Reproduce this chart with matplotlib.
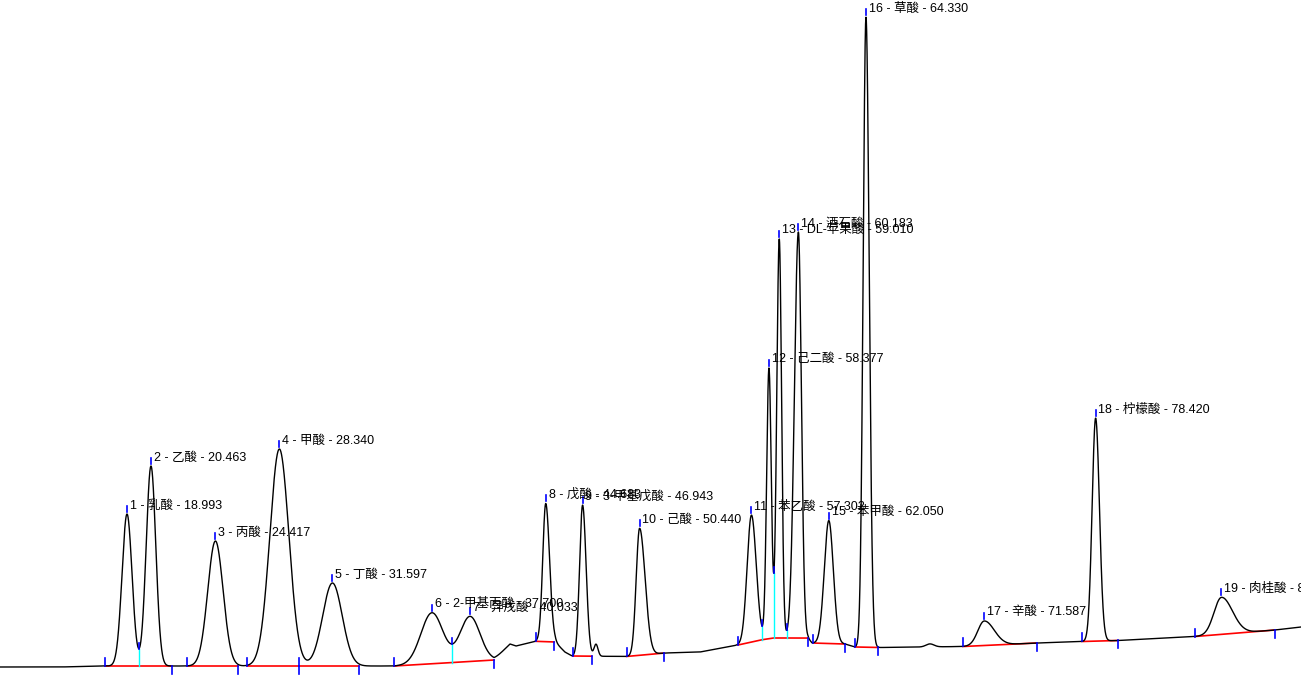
"""
Ion chromatogram of organic acids with integration marks and peak labels.
"""
import numpy as np
import matplotlib
matplotlib.use('Agg')
import matplotlib.pyplot as plt

plt.rcParams['font.family'] = ['Liberation Sans', 'Noto Sans CJK SC']

# peak table (time in min, height above baseline)
peak_no = list(range(1, 20))
peak_names = ['乳酸', '乙酸', '丙酸', '甲酸', '丁酸', '2-甲基丙酸', '异戊酸', '戊酸',
              '3-甲基戊酸', '己酸', '苯乙酸', '己二酸', 'DL-苹果酸', '酒石酸', '苯甲酸',
              '草酸', '辛酸', '柠檬酸', '肉桂酸']
ret_times = [18.993, 20.463, 24.417, 28.340, 31.597, 37.700, 40.033, 44.683, 46.943,
             50.440, 57.302, 58.377, 59.010, 60.183, 62.050, 64.330, 71.587, 78.420,
             86.140]
heights = [152, 200, 125, 217, 83, 51, 45, 138, 151, 127, 127, 270, 399, 406, 123,
           630, 24.5, 223, 37]
sigma_left = [0.307, 0.294, 0.470, 0.583, 0.600, 0.675, 0.613, 0.184, 0.184, 0.209,
              0.264, 0.141, 0.153, 0.245, 0.276, 0.172, 0.399, 0.215, 0.460]
sigma_right = [0.307, 0.294, 0.470, 0.583, 0.600, 0.675, 0.613, 0.233, 0.215, 0.337,
               0.294, 0.141, 0.141, 0.184, 0.276, 0.196, 0.613, 0.233, 0.675]

# small unlabeled bumps
minor_times = [47.766, 68.257]
minor_heights = [12, 3]
minor_sigmas = [0.123, 0.245]

# drifting baseline (time, signal)
base_times = [11.20, 14.88, 17.64, 35.44, 41.51, 42.06, 42.49, 42.86, 44.15, 45.25,
              45.86, 46.29, 49.61, 52.00, 54.15, 56.48, 58.44, 60.77, 61.02, 63.04,
              63.66, 65.19, 70.28, 74.82, 77.58, 79.79, 84.52, 89.42, 91.02]
base_values = [0, 0, 1, 1, 7, 16, 23, 21, 26, 25,
               15, 11, 10.5, 14, 15, 22, 29, 29, 24, 23,
               20, 19.5, 20.5, 24, 25.5, 26.5, 30.5, 37, 40]

# integration windows (start, end) in min
group_start = [17.643, 22.692, 26.374, 29.564, 35.374, 44.067, 46.337, 49.650,
               56.478, 61.080, 63.656, 70.282, 77.583, 84.515]
group_end = [21.735, 25.821, 29.564, 33.244, 41.509, 45.190, 47.502, 51.939,
             60.773, 63.043, 65.067, 74.822, 79.791, 89.423]


def baseline(t):
    return np.interp(t, base_times, base_values)


def signal(t):
    t = np.asarray(t, dtype=float)
    y = baseline(t)
    for rt, h, sl, sr in zip(ret_times, heights, sigma_left, sigma_right):
        s = np.where(t < rt, sl, sr)
        y = y + h * np.exp(-0.5 * ((t - rt) / s) ** 2)
    for rt, h, s in zip(minor_times, minor_heights, minor_sigmas):
        y = y + h * np.exp(-0.5 * ((t - rt) / s) ** 2)
    return y


fig = plt.figure(figsize=(13.01, 6.88), dpi=100)
ax = fig.add_axes([0, 0, 1, 1])
ax.set_xlim(11.20, 91.02)
ax.set_ylim(-21, 667)
ax.axis('off')

t = np.linspace(11.20, 91.02, 12000)
ax.plot(t, signal(t), color='black', linewidth=1.0, zorder=3)

# integration baselines, drop lines and marks
for ts, te in zip(group_start, group_end):
    inside = [rt for rt in ret_times if ts <= rt <= te]
    valleys = []
    for a, b in zip(inside[:-1], inside[1:]):
        tt = np.linspace(a, b, 400)
        valleys.append(tt[np.argmin(signal(tt))])
    pts = [ts] + valleys + [te]
    ax.plot(pts, baseline(pts), color='red', linewidth=1.2, zorder=2)
    for tv in valleys:
        sv = float(signal(tv))
        ax.plot([tv, tv], [baseline(tv), sv], color='cyan', linewidth=1.0, zorder=2)
        ax.plot([tv, tv], [sv, sv + 6], color='blue', linewidth=1.2, zorder=4)
    ax.plot([ts, ts], [baseline(ts), baseline(ts) + 8], color='blue', linewidth=1.2, zorder=4)
    ax.plot([te, te], [baseline(te), baseline(te) - 8], color='blue', linewidth=1.2, zorder=4)

# apex marks and labels
for n, name, rt in zip(peak_no, peak_names, ret_times):
    top = float(signal(rt))
    ax.plot([rt, rt], [top + 2, top + 8], color='blue', linewidth=1.2, zorder=4)
    ax.annotate(f'{n} - {name} - {rt:.3f}', xy=(rt, top), xytext=(2, 4),
                textcoords='offset points', fontsize=9, ha='left', va='baseline',
                color='black', zorder=5)

plt.savefig('out.png', dpi=100)
plt.close()
